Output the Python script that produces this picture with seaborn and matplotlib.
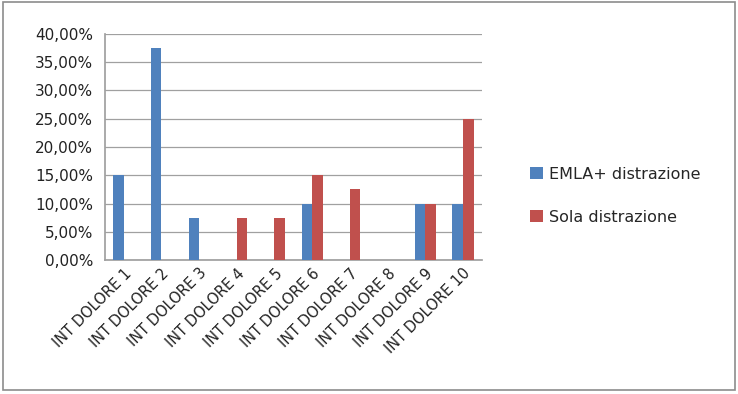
import pandas as pd
import matplotlib.pyplot as plt
import matplotlib.ticker as mticker
import seaborn as sns

sns.set_theme(style="white")
plt.rcParams['font.family'] = ['DejaVu Sans']

# data
categories = ["INT DOLORE %d" % i for i in range(1, 11)]
emla = [15.0, 37.5, 7.5, 0, 0, 10.0, 0, 0, 10.0, 10.0]
sola = [0, 0, 0, 7.5, 7.5, 15.0, 12.5, 0, 10.0, 25.0]
series = ["EMLA+ distrazione", "Sola distrazione"]
colors = ["#4F81BD", "#C0504D"]

df = pd.DataFrame({
    "cat": categories * 2,
    "val": emla + sola,
    "serie": [series[0]] * 10 + [series[1]] * 10,
})

fig = plt.figure(figsize=(7.38, 3.94), dpi=100)
ax = fig.add_axes([0.142, 0.340, 0.511, 0.574])

sns.barplot(data=df, x="cat", y="val", hue="serie", palette=colors,
            width=0.56, saturation=1, linewidth=0, ax=ax, zorder=3)

ax.set_ylim(0, 40)
ax.set_xlim(-0.5, 9.5)
ax.yaxis.set_major_locator(mticker.MultipleLocator(5))
ax.yaxis.set_major_formatter(mticker.FuncFormatter(lambda v, p: ("%.2f%%" % v).replace(".", ",")))
ax.grid(axis="y", color="#a0a0a0", linewidth=0.9, zorder=0)
ax.set_axisbelow(True)

for s in ["top", "right"]:
    ax.spines[s].set_visible(False)
ax.spines["left"].set_color("#a0a0a0")
ax.spines["bottom"].set_color("#a0a0a0")

# ticks between categories on x, ticks on y
ax.set_xticks([i for i in range(10)])
ax.set_xticklabels(categories, rotation=45, ha="right", rotation_mode="anchor",
                   fontsize=10.5, color="#222222")
ax.tick_params(axis="x", length=0, pad=4)
ax.set_xticks([i - 0.5 for i in range(11)], minor=True)
ax.tick_params(axis="x", which="minor", length=5, color="#a0a0a0", direction="out")
ax.tick_params(axis="y", length=5, color="#a0a0a0", direction="out", labelsize=11, labelcolor="#222222")
ax.set_xlabel("")
ax.set_ylabel("")

handles, labels = ax.get_legend_handles_labels()
ax.legend(handles, labels, loc="center left", bbox_to_anchor=(1.09, 0.285),
          frameon=False, fontsize=11.5, handlelength=0.8, handleheight=0.8,
          labelspacing=1.75, handletextpad=0.4)

fig.patches.append(plt.Rectangle((0.004, 0.01), 0.992, 0.985, transform=fig.transFigure,
                                 fill=False, edgecolor="#8c8c8c", linewidth=1.2))

fig.savefig("out.png", dpi=100)
